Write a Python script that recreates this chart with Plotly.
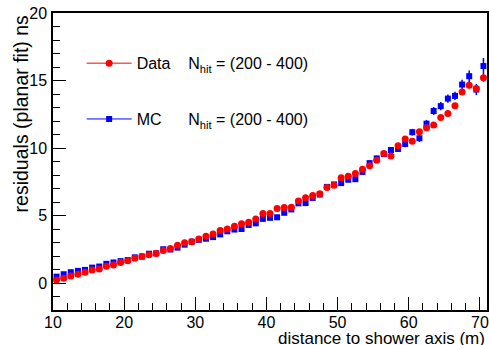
import plotly.graph_objects as go

distance = [10.5 + i for i in range(61)]

data_resid = [0.22, 0.35, 0.52, 0.65, 0.80, 0.97, 1.04, 1.24, 1.34, 1.52,
              1.64, 1.84, 1.96, 2.09, 2.18, 2.41, 2.56, 2.79, 2.99, 3.06,
              3.26, 3.46, 3.63, 3.88, 4.00, 4.20, 4.38, 4.50, 4.75, 5.15,
              5.15, 5.52, 5.60, 5.62, 6.07, 6.32, 6.49, 6.62, 7.07, 7.24,
              7.80, 7.91, 8.12, 8.43, 8.68, 9.10, 9.60, 9.40, 10.17, 10.67,
              10.50, 11.20, 11.50, 11.70, 12.26, 12.56, 13.13, 14.15, 14.65, 14.40,
              15.20]
data_err = [0.08, 0.08, 0.08, 0.08, 0.08, 0.08, 0.08, 0.08, 0.08, 0.08,
            0.08, 0.08, 0.08, 0.08, 0.08, 0.08, 0.08, 0.08, 0.08, 0.08,
            0.08, 0.08, 0.08, 0.08, 0.08, 0.08, 0.08, 0.08, 0.08, 0.10,
            0.10, 0.10, 0.10, 0.10, 0.10, 0.10, 0.10, 0.10, 0.10, 0.10,
            0.10, 0.10, 0.10, 0.12, 0.12, 0.12, 0.12, 0.14, 0.14, 0.15,
            0.15, 0.15, 0.16, 0.18, 0.18, 0.20, 0.20, 0.22, 0.24, 0.26,
            0.30]

mc_resid = [0.47, 0.65, 0.80, 0.90, 0.97, 1.14, 1.22, 1.42, 1.52, 1.62,
            1.70, 1.90, 1.96, 2.17, 2.20, 2.50, 2.48, 2.62, 2.84, 3.06,
            3.20, 3.28, 3.40, 3.60, 3.83, 3.96, 4.00, 4.30, 4.42, 4.75,
            4.83, 4.87, 5.20, 5.45, 5.90, 5.92, 6.30, 6.55, 7.12, 7.30,
            7.40, 7.65, 7.69, 8.23, 8.88, 9.23, 9.55, 9.85, 9.93, 10.30,
            11.17, 10.72, 11.80, 12.74, 13.10, 13.66, 13.86, 14.70, 15.32, 14.33,
            16.07]
mc_err = [0.10, 0.10, 0.10, 0.10, 0.10, 0.10, 0.10, 0.10, 0.10, 0.10,
          0.10, 0.10, 0.10, 0.10, 0.10, 0.10, 0.10, 0.10, 0.10, 0.10,
          0.12, 0.12, 0.12, 0.12, 0.12, 0.12, 0.12, 0.12, 0.12, 0.14,
          0.14, 0.14, 0.14, 0.15, 0.15, 0.15, 0.15, 0.16, 0.16, 0.16,
          0.18, 0.18, 0.18, 0.20, 0.20, 0.20, 0.22, 0.22, 0.22, 0.25,
          0.25, 0.26, 0.28, 0.30, 0.30, 0.30, 0.30, 0.35, 0.43, 0.41,
          0.60]

legend_data = "Data\u00a0\u00a0\u00a0\u00a0N<sub>hit</sub> = (200 - 400)"
legend_mc = "MC\u00a0\u00a0\u00a0\u00a0\u00a0\u00a0N<sub>hit</sub> = (200 - 400)"
x_title = "distance to shower axis (m)"
y_title = "residuals (planar fit) ns"

FONT = "Liberation Sans, Arial, Helvetica, sans-serif"

fig = go.Figure()
fig.add_trace(go.Scatter(
    x=distance, y=mc_resid, mode="markers", name=legend_mc,
    legendgroup="mc", showlegend=False,
    marker=dict(symbol="square", size=6, color="#0000ff"),
    error_y=dict(type="data", array=mc_err, color="#0000ff", thickness=1.5, width=0),
))
fig.add_trace(go.Scatter(
    x=distance, y=data_resid, mode="markers", name=legend_data,
    legendgroup="data", showlegend=False,
    marker=dict(symbol="circle", size=7, color="#ff0000"),
    error_y=dict(type="data", array=data_err, color="#ff0000", thickness=1.5, width=0),
))

# Legend entries (line with marker, as in the ROOT legend)
fig.add_trace(go.Scatter(
    x=[None], y=[None], mode="lines+markers", name=legend_data,
    legendgroup="data", legendrank=1,
    marker=dict(symbol="circle", size=7, color="#ff0000"),
    line=dict(color="#ff0000", width=1),
))
fig.add_trace(go.Scatter(
    x=[None], y=[None], mode="lines+markers", name=legend_mc,
    legendgroup="mc", legendrank=2,
    marker=dict(symbol="square", size=6, color="#0000ff"),
    line=dict(color="#0000ff", width=1),
))

axis_common = dict(
    showline=True, linecolor="black", linewidth=1.5, mirror=True,
    ticks="inside", ticklen=13, tickwidth=1, tickcolor="black",
    showgrid=False, zeroline=False, automargin=False,
    tickfont=dict(family=FONT, size=16, color="black"),
)

fig.update_xaxes(
    range=[10, 71], tick0=10, dtick=10, ticklabelstandoff=-3,
    minor=dict(ticks="inside", ticklen=7, dtick=2, tick0=10, tickcolor="black", showgrid=False),
    **axis_common,
)
fig.update_yaxes(
    range=[-2, 20], tick0=0, dtick=5, ticklabelstandoff=1,
    minor=dict(ticks="inside", ticklen=7, dtick=1, tick0=0, tickcolor="black", showgrid=False),
    **axis_common,
)

fig.add_annotation(
    text=x_title, xref="paper", yref="paper", x=1.0, y=-0.058,
    xanchor="right", yanchor="top", showarrow=False,
    font=dict(family=FONT, size=17, color="black"),
)
fig.add_annotation(
    text=y_title, xref="paper", yref="paper", x=-0.044, y=1.0,
    xanchor="right", yanchor="top", showarrow=False, textangle=-90,
    font=dict(family=FONT, size=19.5, color="black"),
)

fig.update_layout(
    width=489, height=345,
    margin=dict(l=53, r=2, t=13, b=35),
    paper_bgcolor="white", plot_bgcolor="white",
    showlegend=True,
    legend=dict(
        x=0.066, y=0.888, xanchor="left", yanchor="top",
        bgcolor="rgba(0,0,0,0)", borderwidth=0,
        font=dict(family=FONT, size=16, color="black"),
        tracegroupgap=32, itemwidth=45, traceorder="grouped",
    ),
)

fig.write_html(
    "out.html",
    config={"displayModeBar": False},
    post_script="document.body.style.margin='0px';document.body.style.overflow='hidden';",
)
